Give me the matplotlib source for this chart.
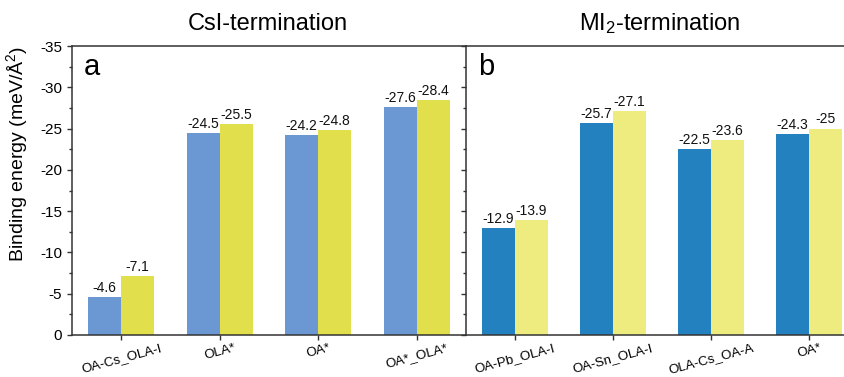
import matplotlib
matplotlib.use("Agg")
import matplotlib.pyplot as plt
import numpy as np
from matplotlib.ticker import MultipleLocator

plt.rcParams['font.family'] = ['Liberation Sans', 'DejaVu Sans']
plt.rcParams['mathtext.fontset'] = 'custom'
plt.rcParams['mathtext.rm'] = 'Liberation Sans'
plt.rcParams['mathtext.it'] = 'Liberation Sans:italic'
plt.rcParams['axes.unicode_minus'] = False

# Data
left_categories = ["OA-Cs_OLA-I", "OLA*", "OA*", "OA*_OLA*"]
left_blue = [-4.6, -24.5, -24.2, -27.6]
left_yellow = [-7.1, -25.5, -24.8, -28.4]

right_categories = ["OA-Pb_OLA-I", "OA-Sn_OLA-I", "OLA-Cs_OA-A", "OA*"]
right_blue = [-12.9, -25.7, -22.5, -24.3]
right_yellow = [-13.9, -27.1, -23.6, -25]

yticks = [0, -5, -10, -15, -20, -25, -30, -35]

W, H = 845, 377
fig = plt.figure(figsize=(W / 100, H / 100), dpi=100)

def axpos(x0, x1, ytop, ybot):
    return [x0 / W, (H - ybot) / H, (x1 - x0) / W, (ybot - ytop) / H]

axL = fig.add_axes(axpos(72, 466, 46, 335))
axR = fig.add_axes(axpos(466, 858, 46, 335))

spine_col = "#333333"
bw = 0.335

def draw(ax, cats, blue, yellow, cblue, cyellow, letter, show_ylabels):
    x = np.arange(len(cats))
    ax.bar(x - bw / 2, blue, width=bw, color=cblue, linewidth=0)
    ax.bar(x + bw / 2, yellow, width=bw, color=cyellow, linewidth=0)
    for xi, v in zip(x - bw / 2, blue):
        ax.annotate(f"{v:g}", (xi, v), xytext=(0, 1.5), textcoords='offset points',
                    ha='center', va='bottom', fontsize=10, color="#111111")
    for xi, v in zip(x + bw / 2, yellow):
        ax.annotate(f"{v:g}", (xi, v), xytext=(0, 1.5), textcoords='offset points',
                    ha='center', va='bottom', fontsize=10, color="#111111")
    ax.set_xlim(-0.5, len(cats) - 0.5)
    ax.set_ylim(0, -35)
    ax.set_yticks(yticks)
    ax.yaxis.set_minor_locator(MultipleLocator(2.5))
    ax.set_xticks(x)
    ax.set_xticklabels(cats, rotation=15, fontsize=9.6, ha='center')
    ax.tick_params(axis='x', direction='out', length=3.5, width=1, color=spine_col, pad=1.5)
    ax.tick_params(axis='y', which='major', direction='out', length=3.5, width=1, color=spine_col,
                   labelsize=11, labelleft=show_ylabels, pad=3.5)
    ax.tick_params(axis='y', which='minor', direction='out', length=2, width=1, color=spine_col)
    for s in ax.spines.values():
        s.set_color(spine_col)
        s.set_linewidth(1.1)
    ax.spines['right'].set_visible(False)
    ax.text(0.03, 0.975, letter, transform=ax.transAxes, fontsize=21, va='top', ha='left')

draw(axL, left_categories, left_blue, left_yellow, "#6b98d2", "#e1df4b", "a", True)
draw(axR, right_categories, right_blue, right_yellow, "#2381c0", "#efec7f", "b", False)

axL.set_ylabel("Binding energy (meV/Å$^2$)", fontsize=14)
axL.yaxis.set_label_coords(-0.107, 0.626)

fig.text(268 / W, 1 - 24 / H, "CsI-termination", fontsize=17, ha='center', va='center')
fig.text(660 / W, 1 - 24 / H, "MI$_2$-termination", fontsize=17, ha='center', va='center')

fig.savefig("out.png", dpi=100)
